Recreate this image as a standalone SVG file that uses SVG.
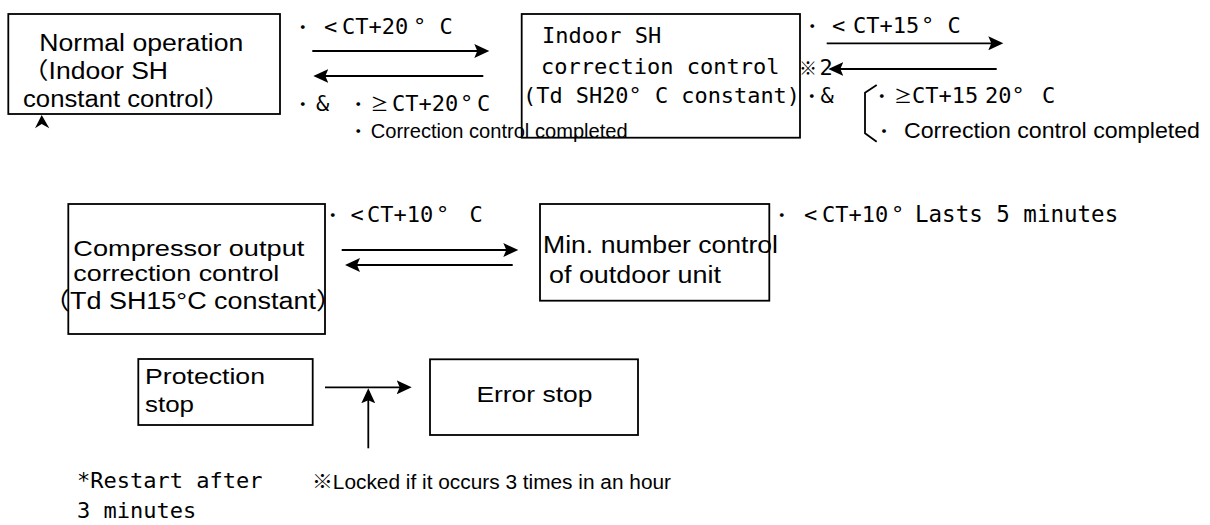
<svg xmlns="http://www.w3.org/2000/svg" width="1210" height="525" viewBox="0 0 1210 525">
<style>
.box{fill:#fff;stroke:#000;stroke-width:1.8}
.p{font-family:"Liberation Sans","Noto Sans CJK JP",sans-serif;fill:#000}
.m{font-family:"DejaVu Sans Mono","Noto Sans CJK JP",monospace;font-size:22px;fill:#000}
.c{font-family:"Noto Sans CJK JP",sans-serif;font-size:18px}
.s{font-size:4px}
.ln{stroke:#000;stroke-width:1.8;fill:none}
.ar{marker-end:url(#ah)}
</style>
<defs>
<marker id="ah" markerWidth="16" markerHeight="14" refX="12" refY="7" orient="auto" markerUnits="userSpaceOnUse"><path d="M0,0 L15,7 L0,14 L3,7 Z" fill="#000"/></marker>
</defs>
<rect width="1210" height="525" fill="#fff"/>

<g id="n-normal">
<rect class="box" x="8.3" y="14" width="271.7" height="100"/>
<text class="p" font-size="23" x="39.3" y="50.7" textLength="204" lengthAdjust="spacingAndGlyphs">Normal operation</text>
<text class="p" font-size="23" x="22" y="79.3" textLength="146" lengthAdjust="spacingAndGlyphs">（Indoor SH</text>
<text class="p" font-size="23" x="23" y="107.3" textLength="207" lengthAdjust="spacingAndGlyphs">constant control）</text>
</g>

<g id="n-indoor-sh">
<rect class="box" x="521.7" y="14" width="278.3" height="123.7"/>
<text class="m" x="542" y="42.7">Indoor SH</text>
<text class="m" x="541" y="74">correction control</text>
<text class="m" x="523" y="103.3" textLength="277" lengthAdjust="spacingAndGlyphs">(Td SH20° C constant)</text>
</g>

<g id="n-compressor">
<rect class="box" x="68.3" y="204" width="256.7" height="130"/>
<text class="p" font-size="22" x="73.3" y="256" textLength="231" lengthAdjust="spacingAndGlyphs">Compressor output</text>
<text class="p" font-size="22" x="73.3" y="281" textLength="206" lengthAdjust="spacingAndGlyphs">correction control</text>
<text class="p" font-size="23.5" x="43" y="309.3" textLength="300" lengthAdjust="spacingAndGlyphs">（Td SH15°C constant）</text>
</g>

<g id="n-min-number">
<rect class="box" x="540" y="204" width="229.3" height="96.7"/>
<text class="p" font-size="23.5" x="543" y="253.3" textLength="235" lengthAdjust="spacingAndGlyphs">Min. number control</text>
<text class="p" font-size="23.5" x="549" y="282.5" textLength="172" lengthAdjust="spacingAndGlyphs">of outdoor unit</text>
</g>

<g id="n-protection">
<rect class="box" x="138.3" y="359" width="174.4" height="66"/>
<text class="p" font-size="22.5" x="145" y="384" textLength="120" lengthAdjust="spacingAndGlyphs">Protection</text>
<text class="p" font-size="22.5" x="145" y="412" textLength="49" lengthAdjust="spacingAndGlyphs">stop</text>
</g>

<g id="n-error">
<rect class="box" x="430" y="359.3" width="208" height="75.7"/>
<text class="p" font-size="22.5" x="476.4" y="401.7" textLength="116" lengthAdjust="spacingAndGlyphs">Error stop</text>
</g>

<g id="connectors">
<line class="ln ar" x1="312.3" y1="51" x2="486.3" y2="51"/>
<line class="ln ar" x1="483.3" y1="76" x2="316.3" y2="76"/>
<line class="ln ar" x1="826.7" y1="43.3" x2="1000.3" y2="43.3"/>
<line class="ln ar" x1="996.7" y1="69" x2="831.3" y2="69"/>
<line class="ln ar" x1="341.7" y1="250" x2="515.3" y2="250"/>
<line class="ln ar" x1="512.7" y1="265" x2="348" y2="265"/>
<line class="ln ar" x1="325" y1="387.3" x2="408.7" y2="387.3"/>
<line class="ln ar" x1="368.3" y1="448.3" x2="368.3" y2="391.3"/>
<path d="M41.7,115 L49.3,128.3 L41.7,124 L35,128.3 Z" fill="#000"/>
<path class="ln" stroke-width="1.5" d="M876.7,85 L865,92.7 L865,133.3 L876.7,141.7"/>
</g>

<g id="labels">
<text class="m" y="34"><tspan class="c" x="293.7">・</tspan><tspan class="s"> </tspan><tspan x="324">&lt;</tspan><tspan class="s"> </tspan><tspan x="342">CT+20</tspan><tspan x="413">° C</tspan></text>
<text class="m" y="111"><tspan class="c" x="293.7">・</tspan><tspan class="s"> </tspan><tspan x="316">&amp;</tspan><tspan class="s"> </tspan><tspan class="c" x="349.3">・</tspan><tspan class="s"> </tspan><tspan x="370.5" class="c" font-size="20">≥</tspan><tspan x="392">CT+20</tspan><tspan x="460">°</tspan><tspan class="s"> </tspan><tspan x="477">C</tspan></text>
<text class="p" y="138"><tspan class="c" x="349.3">・</tspan><tspan font-size="20" x="370.7" textLength="257" lengthAdjust="spacingAndGlyphs">Correction control completed</tspan></text>

<text class="m" y="33.3"><tspan class="c" x="803.3">・</tspan><tspan class="s"> </tspan><tspan x="832">&lt;</tspan><tspan class="s"> </tspan><tspan x="853">CT+15</tspan><tspan x="921">° C</tspan></text>
<text class="m" y="75"><tspan class="c" font-size="20" x="799">※</tspan><tspan x="819.5">2</tspan></text>
<text class="m" y="103.3"><tspan class="c" font-size="16" x="802.7">・</tspan><tspan class="s"> </tspan><tspan x="820.5">&amp;</tspan></text>
<text class="m" y="103.3"><tspan class="c" x="872.7">・</tspan><tspan class="s"> </tspan><tspan x="894" class="c" font-size="20">≥</tspan><tspan x="912">CT+15</tspan><tspan class="s"> </tspan><tspan x="985">20°</tspan><tspan class="s"> </tspan><tspan x="1042">C</tspan></text>
<text class="p" y="138.3"><tspan class="c" x="875">・</tspan><tspan font-size="22" x="904" textLength="296" lengthAdjust="spacingAndGlyphs">Correction control completed</tspan></text>

<text class="m" y="221.7"><tspan class="c" x="323.7">・</tspan><tspan class="s"> </tspan><tspan x="350.5">&lt;</tspan><tspan class="s"> </tspan><tspan x="367">CT+10</tspan><tspan x="436">°</tspan><tspan class="s"> </tspan><tspan x="469.5">C</tspan></text>
<text class="m" y="221.7"><tspan class="c" x="772.7">・</tspan><tspan class="s"> </tspan><tspan x="804">&lt;</tspan><tspan class="s"> </tspan><tspan x="822">CT+10</tspan><tspan x="891">°</tspan><tspan class="s"> </tspan><tspan x="915" font-size="22.5">Lasts 5 minutes</tspan></text>

<text class="m" x="77" y="488">*Restart after</text>
<text class="m" x="77" y="518">3 minutes</text>
<text class="p" font-size="20" x="312" y="489" textLength="359" lengthAdjust="spacingAndGlyphs">※Locked if it occurs 3 times in an hour</text>
</g>
</svg>
